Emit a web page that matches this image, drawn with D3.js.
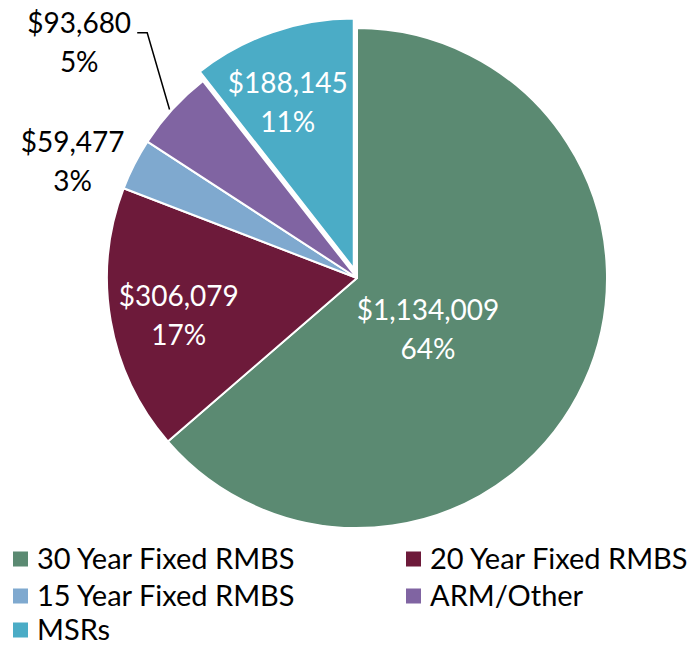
<!DOCTYPE html>
<html>
<head>
<meta charset="utf-8">
<script src="https://cdn.jsdelivr.net/npm/d3@7"></script>
<style>
  html, body { margin: 0; padding: 0; background: #ffffff; }
  svg { display: block; }
</style>
</head>
<body>
<div id="chart"></div>
<script>
// Portfolio composition (in thousands)
const categories = ['30 Year Fixed RMBS', '20 Year Fixed RMBS', '15 Year Fixed RMBS', 'ARM/Other', 'MSRs'];
const values = [1134009, 306079, 59477, 93680, 188145];
const percentLabels = ['64%', '17%', '3%', '5%', '11%'];
const colors = ['#5b8a72', '#6d1a3a', '#7fa9cf', '#8064a2', '#4bacc6'];

// Layout
const width = 689, height = 646;
const cx = 357, cy = 278, radius = 250;
const explode = [0, 0, 0, 0, 10];           // MSR slice pulled out
const labelRadius = [88, 181, 308, 366, 175];
const labelNudge = [[-9, 15], [0, 7], [-10, 24], [-8, 12], [-9, 0]];
const labelInside = [true, true, false, false, true];

const svg = d3.select('#chart')
    .append('svg')
    .attr('width', width)
    .attr('height', height);

const g = svg.append('g')
    .attr('transform', `translate(${cx},${cy})`);

const pie = d3.pie()
    .value(d => d)
    .sort(null);

const arcs = pie(values);

const arc = d3.arc()
    .innerRadius(0)
    .outerRadius(radius);

const midAngle = d => (d.startAngle + d.endAngle) / 2;

// Slices
g.selectAll('path.slice')
    .data(arcs)
    .enter()
    .append('path')
    .attr('class', 'slice')
    .attr('d', arc)
    .attr('fill', (d, i) => colors[i])
    .attr('stroke', '#ffffff')
    .attr('stroke-width', 2)
    .attr('stroke-linejoin', 'round')
    .attr('transform', (d, i) => {
        const a = midAngle(d);
        return `translate(${Math.sin(a) * explode[i]},${-Math.cos(a) * explode[i]})`;
    });

// Labels
arcs.forEach((d, i) => {
    const a = midAngle(d);
    const r = labelRadius[i] + explode[i];
    const x = Math.sin(a) * r + labelNudge[i][0];
    const y = -Math.cos(a) * r + labelNudge[i][1];
    const fill = labelInside[i] ? '#ffffff' : '#000000';

    const t = g.append('text')
        .attr('text-anchor', 'middle')
        .style('font-family', 'Lato, "Open Sans", sans-serif')
        .style('font-size', '28px')
        .style('fill', fill);

    t.append('tspan')
        .attr('x', x)
        .attr('y', y - 10)
        .text('$' + d3.format(',')(values[i]));

    t.append('tspan')
        .attr('x', x)
        .attr('y', y + 29)
        .text(percentLabels[i]);

    // Leader line for the ARM/Other label
    if (i === 3) {
        const ex = Math.sin(a - 0.01) * (radius + 2);
        const ey = -Math.cos(a - 0.01) * (radius + 2);
        g.append('polyline')
            .attr('points', `${x + 58},${y - 10} ${x + 68},${y - 10} ${ex},${ey}`)
            .attr('fill', 'none')
            .attr('stroke', '#000000')
            .attr('stroke-width', 1.5);
    }
});

// Legend
const legendCols = [13, 406];
const legendRows = [559, 596, 630];

const legend = svg.append('g').attr('class', 'chart-legend');

categories.forEach((name, i) => {
    const lx = legendCols[i % 2];
    const ly = legendRows[Math.floor(i / 2)];
    const item = legend.append('g')
        .attr('transform', `translate(${lx},${ly})`);

    item.append('rect')
        .attr('x', 0)
        .attr('y', -7.5)
        .attr('width', 15)
        .attr('height', 15)
        .attr('fill', colors[i]);

    item.append('text')
        .attr('x', 24)
        .attr('y', 10)
        .style('font-family', 'Lato, "Open Sans", sans-serif')
        .style('font-size', '29px')
        .style('fill', '#000000')
        .text(name);
});
</script>
</body>
</html>
